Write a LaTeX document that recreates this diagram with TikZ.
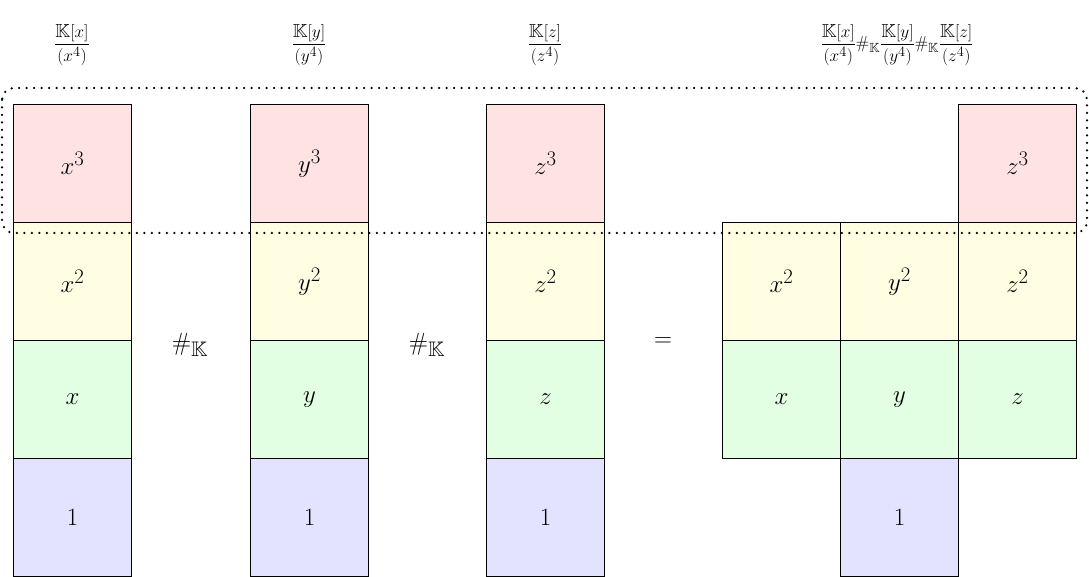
\documentclass[tikz,border=0pt]{standalone}
\usepackage{amssymb}
\begin{document}
\begin{tikzpicture}[x=1pt,y=-1pt,
  cell/.style={draw,line width=1pt,minimum width=118pt,minimum height=118pt,anchor=north west,inner sep=0pt,font=\fontsize{28}{32}\selectfont},
  rr/.style={cell,fill=red!11},
  yy/.style={cell,fill=yellow!11},
  gg/.style={cell,fill=green!11},
  bb/.style={cell,fill=blue!11},
  lab/.style={font=\fontsize{19}{23}\selectfont},
  op/.style={font=\fontsize{30}{34}\selectfont}]
\useasboundingbox (0,0) rectangle (1089,577);
\foreach \v/\X in {x/13,y/250,z/486}{
  \node[rr] (\v3) at (\X,104) {$\v^3$};
  \node[yy] (\v2) at (\X,222) {$\v^2$};
  \node[gg] (\v1) at (\X,340) {$\v$};
  \node[bb] (\v0) at (\X,458) {$1$};
  \node[lab] (l\v) at (\X+59,45) {$\displaystyle\frac{\mathbb{K}[\v]}{(\v^4)}$};
}
\node[rr] (rz3) at (958,104) {$z^3$};
\node[yy] (rx2) at (722,222) {$x^2$};
\node[yy] (ry2) at (840,222) {$y^2$};
\node[yy] (rz2) at (958,222) {$z^2$};
\node[gg] (rx1) at (722,340) {$x$};
\node[gg] (ry1) at (840,340) {$y$};
\node[gg] (rz1) at (958,340) {$z$};
\node[bb] (r0) at (840,458) {$1$};
\node[lab] (lr) at (897,45) {$\displaystyle\frac{\mathbb{K}[x]}{(x^4)}\#_{\mathbb{K}}\frac{\mathbb{K}[y]}{(y^4)}\#_{\mathbb{K}}\frac{\mathbb{K}[z]}{(z^4)}$};
\node[op] (o1) at (190,345) {$\#_{\mathbb{K}}$};
\node[op] (o2) at (427,345) {$\#_{\mathbb{K}}$};
\node[op] (o3) at (663,342) {$=$};
\draw[line width=2.5pt,line cap=round,dash pattern=on 0pt off 7.5pt,rounded corners=12pt] (2,88) rectangle (1087,233);
\end{tikzpicture}
\end{document}
